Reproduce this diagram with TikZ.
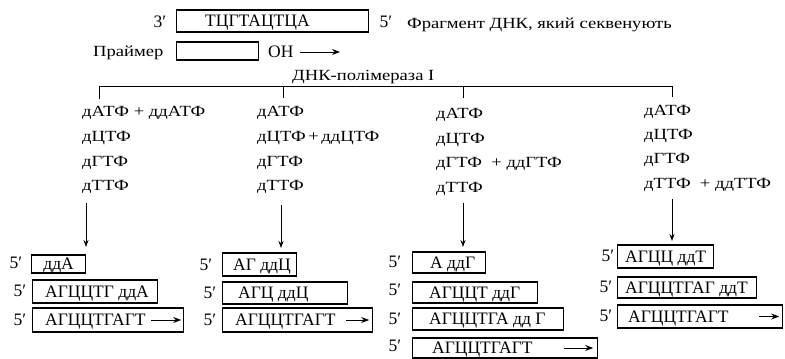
\documentclass[tikz,border=0pt]{standalone}
\usepackage{fontspec}
\setmainfont{Liberation Serif}
\newfontfamily\widefont[FakeStretch=1.2]{Liberation Serif}
\usetikzlibrary{arrows.meta}

\newcommand{\seqfnt}{\fontsize{17.5}{20}\selectfont}
\newcommand{\lblfnt}{\widefont\fontsize{15.5}{18}\selectfont}

\tikzset{
  sbox/.style={draw, line width=1.2pt, anchor=west, inner sep=0pt},
  seqtxt/.style={font=\seqfnt, inner sep=0pt, text height=11.5pt, text depth=0pt, anchor=west},
  prime/.style={font=\seqfnt, inner sep=0pt, text height=11.5pt, text depth=0pt},
  lbl/.style={font=\lblfnt, inner sep=0pt, text height=10pt, text depth=0pt, anchor=west},
  bracketline/.style={line width=1pt},
  feedarrow/.style={line width=1pt, -{Stealth[length=7pt,width=5pt]}},
  extarrow/.style={line width=1pt, -{Stealth[length=8pt,width=6pt]}}
}

\begin{document}
\begin{tikzpicture}[x=1pt, y=-1pt]
\useasboundingbox (0,0) rectangle (785,359);

% template strand and primer
\node[prime] (t3) at (160,22) {3′};
\node[sbox, minimum width=192pt, minimum height=22pt] (tpl) at (176,21) {};
\node[seqtxt] (tpltxt) at (205,21) {ТЦГТАЦТЦА};
\node[prime] (t5) at (386,22) {5′};
\node[lbl] (desc) at (407,23) {Фрагмент ДНК, який секвенують};

\node[lbl] (prlbl) at (93,51) {Праймер};
\node[sbox, minimum width=82pt, minimum height=18pt] (primer) at (176,51) {};
\node[seqtxt] (oh) at (268,52) {OH};
\coordinate (ohend) at (340,52);
\draw[extarrow] ([xshift=6pt]oh.east) -- (ohend);

\node[lbl] (pol) at (292,75) {ДНК-полімераза I};

% branching to the four reactions
\coordinate (br1) at (99,86);
\coordinate (br2) at (283,86);
\coordinate (br3) at (463,86);
\coordinate (br4) at (672,86);
\draw[bracketline] ([yshift=-13pt]br1) -- (br1) -- (br4) -- ([yshift=-11pt]br4);
\draw[bracketline] (br2) -- ([yshift=-12pt]br2);
\draw[bracketline] (br3) -- ([yshift=-12pt]br3);

% reaction mixtures
\node[lbl] (m11) at (82,111) {дАТФ + ддАТФ};
\node[lbl] (m12) at (82,136) {дЦТФ};
\node[lbl] (m13) at (82,161) {дГТФ};
\node[lbl] (m14) at (82,185) {дТТФ};

\node[lbl] (m21) at (257,111) {дАТФ};
\node[lbl] (m22) at (257,136) {дЦТФ\,+\,ддЦТФ};
\node[lbl] (m23) at (257,161) {дГТФ};
\node[lbl] (m24) at (257,185) {дТТФ};

\node[lbl] (m31) at (436,113) {дАТФ};
\node[lbl] (m32) at (436,138) {дЦТФ};
\node[lbl] (m33) at (436,162) {дГТФ \ + ддГТФ};
\node[lbl] (m34) at (436,187) {дТТФ};

\node[lbl] (m41) at (644,110) {дАТФ};
\node[lbl] (m42) at (644,134) {дЦТФ};
\node[lbl] (m43) at (644,158) {дГТФ};
\node[lbl] (m44) at (644,183) {дТТФ \ + ддТТФ};

% arrows to the products
\coordinate (a1s) at (86,203);  \coordinate (a1e) at (86,247);
\coordinate (a2s) at (281,205); \coordinate (a2e) at (281,248);
\coordinate (a3s) at (463,203); \coordinate (a3e) at (463,247);
\coordinate (a4s) at (672,199); \coordinate (a4e) at (672,241);
\draw[feedarrow] (a1s) -- (a1e);
\draw[feedarrow] (a2s) -- (a2e);
\draw[feedarrow] (a3s) -- (a3e);
\draw[feedarrow] (a4s) -- (a4e);

% products, ddATP
\node[prime] (p11) at (16,263) {5′};
\node[sbox, minimum width=54pt, minimum height=18pt] (b11) at (31,264) {};
\node[seqtxt, anchor=center] (s11) at (b11.center) {ддА};
\node[prime] (p12) at (20,291) {5′};
\node[sbox, minimum width=125pt, minimum height=23pt] (b12) at (32,291.5) {};
\node[seqtxt] (s12) at (45,291.5) {АГЦЦТГ ддА};
\node[prime] (p13) at (20,320) {5′};
\node[sbox, minimum width=151pt, minimum height=24pt] (b13) at (32,320) {};
\node[seqtxt] (s13) at (45,320) {АГЦЦТГАГТ};
\draw[extarrow] ([xshift=-33pt]b13.east) -- ([xshift=-3pt]b13.east);

% products, ddCTP
\node[prime] (p21) at (206,265) {5′};
\node[sbox, minimum width=74pt, minimum height=23pt] (b21) at (222,264.5) {};
\node[seqtxt] (s21) at (233,264.5) {АГ ддЦ};
\node[prime] (p22) at (210,293) {5′};
\node[sbox, minimum width=125pt, minimum height=22pt] (b22) at (222,293) {};
\node[seqtxt] (s22) at (238,293) {АГЦ ддЦ};
\node[prime] (p23) at (210,320) {5′};
\node[sbox, minimum width=150pt, minimum height=24pt] (b23) at (222,320) {};
\node[seqtxt] (s23) at (235,320) {АГЦЦТГАГТ};
\draw[extarrow] ([xshift=-27pt]b23.east) -- ([xshift=-4pt]b23.east);

% products, ddGTP
\node[prime] (p31) at (395,262) {5′};
\node[sbox, minimum width=73pt, minimum height=21pt] (b31) at (412,262.5) {};
\node[seqtxt] (s31) at (430,262.5) {А ддГ};
\node[prime] (p32) at (395,290) {5′};
\node[sbox, minimum width=125pt, minimum height=21pt] (b32) at (412,292.5) {};
\node[seqtxt] (s32) at (429,292.5) {АГЦЦТ ддГ};
\node[prime] (p33) at (395,318.5) {5′};
\node[sbox, minimum width=151pt, minimum height=22pt] (b33) at (412,319) {};
\node[seqtxt] (s33) at (429,319) {АГЦЦТГА дд Г};
\node[prime] (p34) at (395,346) {5′};
\node[sbox, minimum width=185pt, minimum height=20pt] (b34) at (412,348) {};
\node[seqtxt] (s34) at (432,348) {АГЦЦТГАГТ};
\draw[extarrow] ([xshift=-34pt]b34.east) -- ([xshift=-5pt]b34.east);

% products, ddTTP
\node[prime] (p41) at (608,256) {5′};
\node[sbox, minimum width=96pt, minimum height=23pt] (b41) at (617,256.5) {};
\node[seqtxt] (s41) at (625,256.5) {АГЦЦ ддТ};
\node[prime] (p42) at (606,287) {5′};
\node[sbox, minimum width=139pt, minimum height=21pt] (b42) at (617,287.5) {};
\node[seqtxt] (s42) at (625,287.5) {АГЦЦТГАГ ддТ};
\node[prime] (p43) at (606,316) {5′};
\node[sbox, minimum width=165pt, minimum height=23pt] (b43) at (617,316.5) {};
\node[seqtxt] (s43) at (628,316.5) {АГЦЦТГАГТ};
\draw[extarrow] ([xshift=-24pt]b43.east) -- ([xshift=-4pt]b43.east);
\end{tikzpicture}
\end{document}
